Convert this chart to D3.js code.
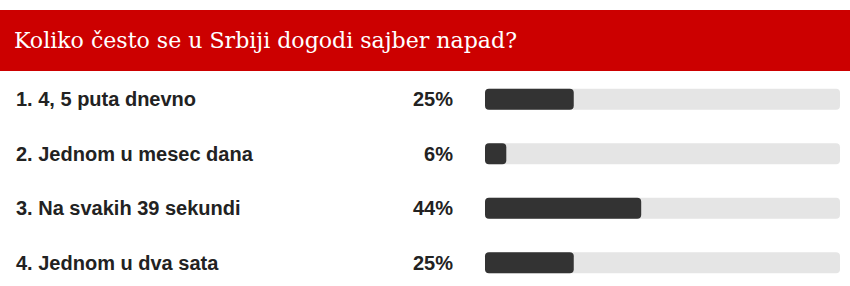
<!DOCTYPE html>
<html>
<head>
<meta charset="utf-8">
<script src="https://cdn.jsdelivr.net/npm/d3@7"></script>
<style>
  body { margin: 0; background: #fff; }
  .title { font-family: "DejaVu Serif Condensed", "DejaVu Serif", serif; fill: #fff; }
  .label { font-family: "Liberation Sans", Arial, sans-serif; font-weight: bold; fill: #222; }
</style>
</head>
<body>
<div class="chart"></div>
<script>
const title = "Koliko često se u Srbiji dogodi sajber napad?"
const answers = ["1. 4, 5 puta dnevno", "2. Jednom u mesec dana", "3. Na svakih 39 sekundi", "4. Jednom u dva sata"]
const percents = [25, 6, 44, 25]

const chart = () => {

    let width = 850, height = 286

    let svg = d3.select(".chart").append("svg")
        .attr("width", width)
        .attr("height", height)

    // red header
    svg.append("rect")
        .attr("x", 0)
        .attr("y", 10)
        .attr("width", width)
        .attr("height", 61)
        .style("fill", "#cc0000")

    svg.append("text")
        .attr("class", "title")
        .attr("x", 14)
        .attr("y", 48)
        .attr("textLength", 503)
        .attr("lengthAdjust", "spacingAndGlyphs")
        .style("font-size", "23px")
        .text(title)

    let y = d3.scaleBand()
        .domain(answers)
        .range([72, 290])
        .paddingInner(0)

    let x = d3.scaleLinear()
        .domain([0, 100])
        .range([485, 840])

    let barHeight = 21

    let row = svg.selectAll("g.row")
        .data(answers)
        .enter().append("g")
        .attr("class", "row")
        .attr("transform", d => "translate(0," + (y(d) + y.bandwidth() / 2) + ")")

    row.append("text")
        .attr("class", "label")
        .attr("x", 16)
        .attr("y", 7)
        .style("font-size", "20px")
        .text(d => d)

    row.append("text")
        .attr("class", "label")
        .attr("x", 453)
        .attr("y", 7)
        .attr("text-anchor", "end")
        .style("font-size", "20px")
        .text((d, i) => percents[i] + "%")

    // background track
    row.append("rect")
        .attr("x", x(0))
        .attr("y", -barHeight / 2)
        .attr("width", x(100) - x(0))
        .attr("height", barHeight)
        .attr("rx", 4)
        .style("fill", "#e5e5e5")

    row.append("rect")
        .attr("x", x(0))
        .attr("y", -barHeight / 2)
        .attr("width", (d, i) => x(percents[i]) - x(0))
        .attr("height", barHeight)
        .attr("rx", 4)
        .style("fill", "#333")
}

chart()
</script>
</body>
</html>
